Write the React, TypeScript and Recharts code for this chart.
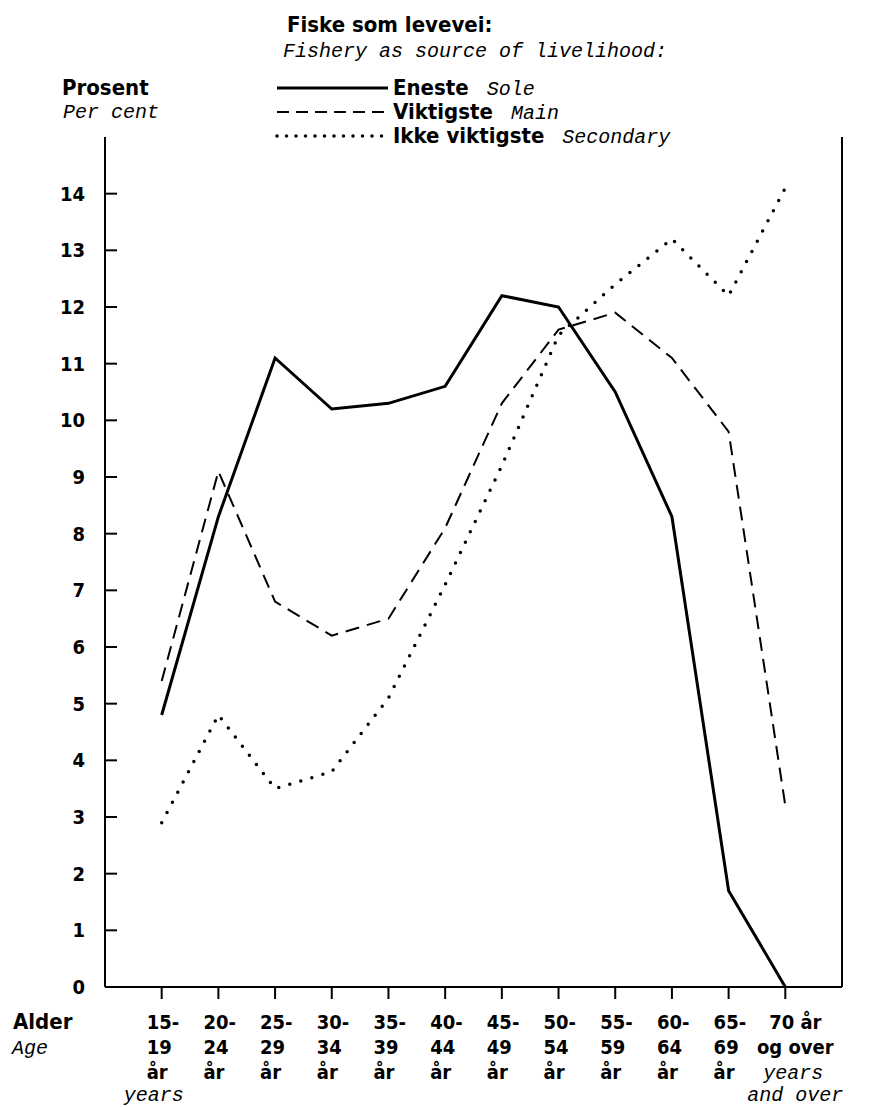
import React from 'react';
import { LineChart, Line, XAxis, YAxis, Legend } from 'recharts';

// age groups, three rows of tick text
const ageFrom = ['15-', '20-', '25-', '30-', '35-', '40-', '45-', '50-', '55-', '60-', '65-', '70 år'];
const ageTo = ['19', '24', '29', '34', '39', '44', '49', '54', '59', '64', '69', 'og over'];
const ageUnit = ['år', 'år', 'år', 'år', 'år', 'år', 'år', 'år', 'år', 'år', 'år', 'years'];

// per cent
const soleValues = [4.8, 8.3, 11.1, 10.2, 10.3, 10.6, 12.2, 12.0, 10.5, 8.3, 1.7, 0];
const mainValues = [5.4, 9.1, 6.8, 6.2, 6.5, 8.1, 10.3, 11.6, 11.9, 11.1, 9.8, 3.2];
const secondaryValues = [2.9, 4.8, 3.5, 3.8, 5.1, 7.1, 9.2, 11.5, 12.4, 13.2, 12.2, 14.1];

const yTicks = [0, 1, 2, 3, 4, 5, 6, 7, 8, 9, 10, 11, 12, 13, 14];
const xTicks = ageFrom.map((_, i) => i + 1);

const seriesKeys = ['sole', 'main', 'secondary'];
const seriesNo = ['Eneste', 'Viktigste', 'Ikke viktigste'];
const seriesEn = ['Sole', 'Main', 'Secondary'];

const data = ageFrom.map((a, i) => ({
  pos: i + 1,
  sole: soleValues[i],
  main: mainValues[i],
  secondary: secondaryValues[i],
}));

const BOLD = '"DejaVu Sans Condensed", "DejaVu Sans", sans-serif';
const MONO = '"Liberation Mono", "DejaVu Sans Mono", monospace';

const lineStyle: Record<string, any> = {
  sole: { strokeWidth: 3 },
  main: { strokeWidth: 2, strokeDasharray: '14 8' },
  secondary: { strokeWidth: 3.5, strokeDasharray: '0 11.5', strokeLinecap: 'round' },
};
const legendDash: Record<string, string | undefined> = {
  sole: undefined,
  main: '12 7',
  secondary: '0 9.5',
};

const LeftTick = (props: any) => {
  const { x, y, payload } = props;
  return (
    <g>
      <line x1={x} x2={x + 12} y1={y} y2={y} stroke="#000" strokeWidth={2} />
      <text x={x - 20} y={y + 7} textAnchor="end" fontFamily={BOLD} fontWeight="bold" fontSize={20} fill="#000">
        {payload.value}
      </text>
    </g>
  );
};

const RightTick = (props: any) => {
  const { x, y, payload } = props;
  return (
    <g>
      <line x1={x - 12} x2={x} y1={y} y2={y} stroke="#000" strokeWidth={2} />
      <text x={x + 40} y={y + 7} textAnchor="end" fontFamily={BOLD} fontWeight="bold" fontSize={20} fill="#000">
        {payload.value}
      </text>
    </g>
  );
};

const AgeTick = (props: any) => {
  const { x, y, payload } = props;
  const i = payload.value - 1;
  const last = i === ageFrom.length - 1;
  const b = { fontFamily: BOLD, fontWeight: 'bold' as const, fontSize: 20, fill: '#000' };
  const it = { fontFamily: MONO, fontStyle: 'italic' as const, fontSize: 20, fill: '#000' };
  return (
    <g>
      <line x1={x} x2={x} y1={y} y2={y + 12} stroke="#000" strokeWidth={2} />
      {last ? (
        <>
          <text x={x + 10} y={y + 42} textAnchor="middle" {...b}>{ageFrom[i]}</text>
          <text x={x + 10} y={y + 67} textAnchor="middle" {...b}>{ageTo[i]}</text>
          <text x={x + 8} y={y + 92} textAnchor="middle" {...it}>{ageUnit[i]}</text>
          <text x={x + 10} y={y + 114} textAnchor="middle" {...it}>and over</text>
        </>
      ) : (
        <>
          <text x={x - 15} y={y + 42} {...b}>{ageFrom[i]}</text>
          <text x={x - 15} y={y + 67} {...b}>{ageTo[i]}</text>
          <text x={x - 15} y={y + 92} {...b}>{ageUnit[i]}</text>
          {i === 0 && (
            <text x={x - 8} y={y + 114} textAnchor="middle" {...it}>years</text>
          )}
        </>
      )}
    </g>
  );
};

const Overlay = () => {
  const b = { fontFamily: BOLD, fontWeight: 'bold' as const, fontSize: 22, fill: '#000' };
  const it = { fontFamily: MONO, fontStyle: 'italic' as const, fontSize: 20, fill: '#000' };
  const rows = [88, 112, 136];
  return (
    <svg width={886} height={1107} style={{ display: 'block' }}>
      <text x={287} y={32} {...b}>Fiske som levevei:</text>
      <text x={283} y={57} {...it}>Fishery as source of livelihood:</text>
      <text x={62} y={95} {...b}>Prosent</text>
      <text x={63} y={118} {...it}>Per cent</text>
      {seriesKeys.map((k, i) => (
        <g key={k}>
          <line
            x1={277}
            x2={388}
            y1={rows[i]}
            y2={rows[i]}
            stroke="#000"
            strokeWidth={lineStyle[k].strokeWidth}
            strokeLinecap={lineStyle[k].strokeLinecap}
            strokeDasharray={legendDash[k]}
          />
          <text x={393} y={rows[i] + 7}>
            <tspan {...b}>{seriesNo[i]}</tspan>
            <tspan dx={18} {...it}>{seriesEn[i]}</tspan>
          </text>
        </g>
      ))}
      <text x={13} y={1029} {...b}>Alder</text>
      <text x={12} y={1054} {...it}>Age</text>
    </svg>
  );
};

export default function App() {
  return (
    <div style={{ position: 'relative', width: 886, height: 1107, background: '#fff' }}>
      <style>{'body{margin:0}'}</style>
      <LineChart width={886} height={1107} data={data} margin={{ top: 137, right: 0, bottom: 0, left: 0 }}>
        <XAxis
          dataKey="pos"
          type="number"
          domain={[0, 13]}
          ticks={xTicks}
          interval={0}
          height={120}
          tickSize={0}
          tickMargin={0}
          tickLine={false}
          axisLine={{ stroke: '#000', strokeWidth: 2 }}
          tick={<AgeTick />}
        />
        <YAxis
          yAxisId="left"
          width={105}
          domain={[0, 15]}
          ticks={yTicks}
          interval={0}
          tickSize={0}
          tickMargin={0}
          tickLine={false}
          axisLine={{ stroke: '#000', strokeWidth: 2 }}
          tick={<LeftTick />}
        />
        <YAxis
          yAxisId="right"
          orientation="right"
          width={44}
          domain={[0, 15]}
          ticks={yTicks}
          interval={0}
          tickSize={0}
          tickMargin={0}
          tickLine={false}
          axisLine={{ stroke: '#000', strokeWidth: 2 }}
          tick={<RightTick />}
        />
        {seriesKeys.map((k) => (
          <Line
            key={k}
            yAxisId="left"
            dataKey={k}
            type="linear"
            stroke="#000"
            {...lineStyle[k]}
            dot={false}
            activeDot={false}
            isAnimationActive={false}
          />
        ))}
        <Legend
          layout="horizontal"
          verticalAlign="middle"
          align="center"
          content={() => <Overlay />}
          wrapperStyle={{ position: 'absolute', left: 0, top: 0, width: 886, height: 1107, pointerEvents: 'none' }}
        />
      </LineChart>
    </div>
  );
}
